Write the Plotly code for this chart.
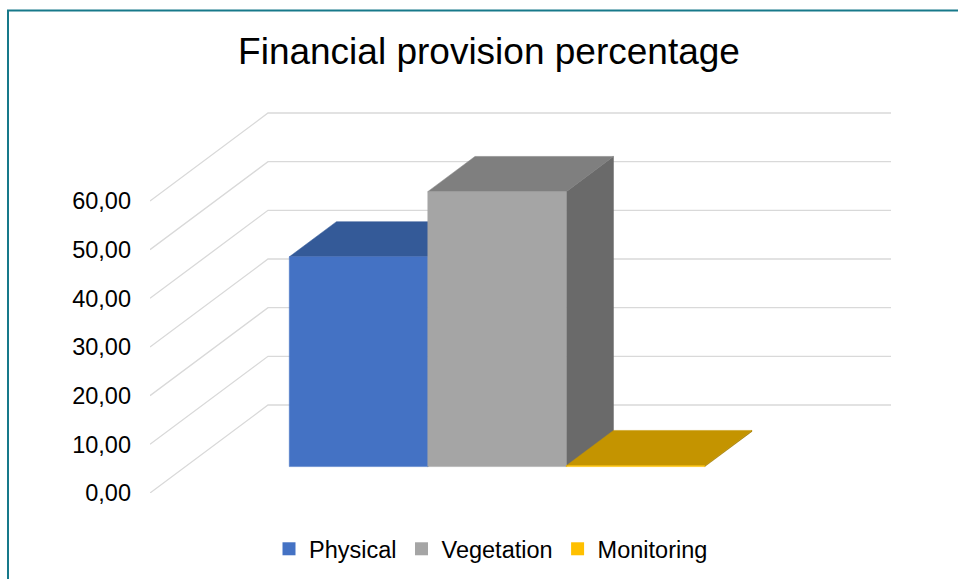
import plotly.graph_objects as go

# ---- data ----
series = ["Physical", "Vegetation", "Monitoring"]
values = [43.1, 56.5, 0.2]
front_colors = ["#4472C4", "#A5A5A5", "#FFC000"]
top_colors = ["#345A98", "#7F7F7F", "#C49400"]
side_colors = ["#2B4A80", "#6A6A6A", "#A07A00"]
tick_vals = [0, 10, 20, 30, 40, 50, 60]
tick_text = ["0,00", "10,00", "20,00", "30,00", "40,00", "50,00", "60,00"]
title_text = "Financial provision percentage"

# ---- oblique projection (x in bar widths, y in value units, z depth 0..1) ----
KX = 0.852   # x shift for full depth
KY = 18.08   # y shift for full depth
GAP = 0.75
Z0, Z1 = 0.3, 0.7
X_LEFT = -GAP
X_RIGHT = len(series) + GAP


def proj(x, y, z):
    return x + z * KX, y + z * KY


def poly(points):
    xs, ys = [], []
    for p in points:
        X, Y = proj(*p)
        xs.append(X)
        ys.append(Y)
    xs.append(xs[0])
    ys.append(ys[0])
    return xs, ys


fig = go.Figure()
grid_color = "#D9D9D9"

# back wall gridlines and side wall diagonals
for v in tick_vals:
    xa, ya = proj(X_LEFT, v, 1)
    xb, yb = proj(X_RIGHT, v, 1)
    xf, yf = proj(X_LEFT, v, 0)
    fig.add_trace(go.Scatter(x=[xf, xa, xb], y=[yf, ya, yb], mode="lines",
                             line=dict(color=grid_color, width=1.3),
                             hoverinfo="skip", showlegend=False))

# bars (left to right for painter's order)
for i, (name, v) in enumerate(zip(series, values)):
    x0, x1 = i, i + 1
    faces = [
        ([(x1, 0, Z0), (x1, 0, Z1), (x1, v, Z1), (x1, v, Z0)], side_colors[i]),
        ([(x0, v, Z0), (x1, v, Z0), (x1, v, Z1), (x0, v, Z1)], top_colors[i]),
        ([(x0, 0, Z0), (x1, 0, Z0), (x1, v, Z0), (x0, v, Z0)], front_colors[i]),
    ]
    for pts, col in faces:
        xs, ys = poly(pts)
        fig.add_trace(go.Scatter(x=xs, y=ys, mode="lines", fill="toself",
                                 fillcolor=col, line=dict(color=col, width=0.5),
                                 hoverinfo="skip", showlegend=False))

# legend entries
for name, col in zip(series, front_colors):
    fig.add_trace(go.Scatter(x=[None], y=[None], mode="markers", name=name,
                             marker=dict(symbol="square", size=13, color=col)))

W, H = 958, 579
L, R, T, B = 150, 67, 112, 86
pw, ph = W - L - R, H - T - B
y_top = (493 - 112) / (292 / 60)
x_right = X_LEFT + pw / 138.5

fig.update_layout(
    width=W, height=H,
    margin=dict(l=L, r=R, t=T, b=B),
    paper_bgcolor="white", plot_bgcolor="white",
    font=dict(family="Liberation Sans, Arial, sans-serif", color="#000000"),
    title=dict(text=title_text, x=489 / W, xanchor="center",
               y=1 - 51.5 / H, yanchor="middle", yref="container", xref="container",
               font=dict(size=37, color="#000000")),
    xaxis=dict(range=[X_LEFT, x_right], visible=False, fixedrange=True),
    yaxis=dict(range=[0, y_top], showgrid=False, zeroline=False, showline=False,
               tickvals=tick_vals, ticktext=tick_text, ticks="",
               ticklabelstandoff=18,
               tickfont=dict(size=23.5, color="#000000"), fixedrange=True),
    legend=dict(orientation="h", x=269 / W, xanchor="left", y=1 - 549 / H,
                yanchor="middle", xref="container", yref="container",
                font=dict(size=23.5, color="#000000"), bgcolor="rgba(0,0,0,0)"),
    shapes=[dict(type="rect", xref="paper", yref="paper",
                 x0=(8 - L) / pw, x1=(W + 20 - L) / pw,
                 y0=(493 - (H + 20)) / ph, y1=(493 - 10.5) / ph,
                 line=dict(color="#17798A", width=2), fillcolor="rgba(0,0,0,0)",
                 layer="below")],
)

fig.write_html("out.html")
